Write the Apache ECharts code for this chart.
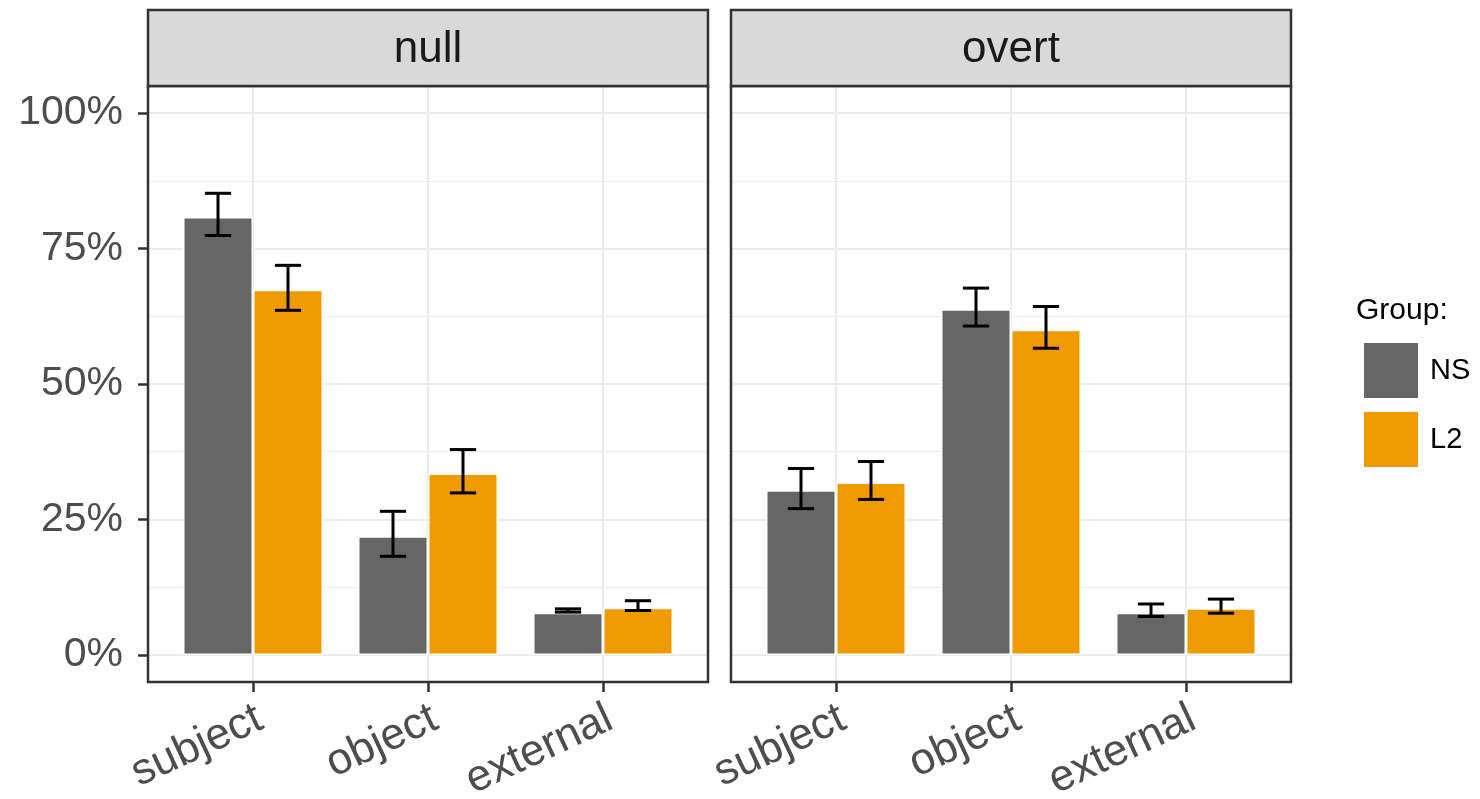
<!DOCTYPE html>
<html>
<head>
<meta charset="utf-8">
<script src="https://cdn.jsdelivr.net/npm/echarts@6/dist/echarts.min.js"></script>
<style>
html,body{margin:0;padding:0;background:#fff;}
#chart{width:1480px;height:799px;}
</style>
</head>
<body>
<div id="chart"></div>
<script>
// ---- data ----
const panels = ['null', 'overt'];
const categories = ['subject', 'object', 'external'];
const groups = ['NS', 'L2'];
const yTicks = [0, 0.25, 0.5, 0.75, 1];
const yMinorTicks = [0.125, 0.375, 0.625, 0.875];

// mean proportions, per panel
const nullNS = [0.808, 0.219, 0.078];
const nullL2 = [0.674, 0.335, 0.087];
const overtNS = [0.304, 0.638, 0.078];
const overtL2 = [0.318, 0.600, 0.086];

// error bar bounds (low, high)
const nullNSLow  = [0.774, 0.182, 0.079];
const nullNSHigh = [0.852, 0.265, 0.085];
const nullL2Low  = [0.636, 0.299, 0.082];
const nullL2High = [0.719, 0.379, 0.100];
const overtNSLow  = [0.270, 0.607, 0.071];
const overtNSHigh = [0.344, 0.677, 0.094];
const overtL2Low  = [0.287, 0.566, 0.077];
const overtL2High = [0.357, 0.643, 0.103];

// ---- style / layout ----
const FONT = 'Liberation Sans, Arial, Helvetica, sans-serif';
const colors = {NS: '#666666', L2: '#EE9A00'};
const panelLeft = [148, 731];
const panelWidth = 560;
const panelTop = 86;
const panelHeight = 596;
const stripTop = 10;
const stripHeight = 76;
const dodge = 0.2;
const capHalf = 0.075;

const values = [
  {NS: nullNS, L2: nullL2, NSLow: nullNSLow, NSHigh: nullNSHigh, L2Low: nullL2Low, L2High: nullL2High},
  {NS: overtNS, L2: overtL2, NSLow: overtNSLow, NSHigh: overtNSHigh, L2Low: overtL2Low, L2High: overtL2High}
];

const grids = [], xAxes = [], yAxes = [], series = [], graphics = [];

panels.forEach((p, pi) => {
  grids.push({left: panelLeft[pi], top: panelTop, width: panelWidth, height: panelHeight,
    containLabel: false, outerBoundsMode: 'none',
    show: true, backgroundColor: '#fff', borderWidth: 0});
  xAxes.push({
    type: 'value', gridIndex: pi, min: 0.4, max: 3.6, position: 'bottom',
    axisLine: {show: false, onZero: false},
    axisTick: {show: true, customValues: [1, 2, 3], length: 10, lineStyle: {color: '#333', width: 2.5}},
    axisLabel: {show: true, customValues: [1, 2, 3], rotate: 25, margin: 38,
      align: 'right', verticalAlign: 'middle', padding: [0, -8, 0, 0],
      formatter: v => categories[Math.round(v) - 1],
      fontFamily: FONT, fontSize: 44, color: '#4D4D4D'},
    splitLine: {show: true, lineStyle: {color: '#EBEBEB', width: 2}}
  });
  yAxes.push({
    type: 'value', gridIndex: pi, min: -0.05, max: 1.05,
    axisLine: {show: false, onZero: false},
    axisTick: {show: pi === 0, customValues: yTicks, length: 10, lineStyle: {color: '#333', width: 2.5}},
    axisLabel: {show: pi === 0, customValues: yTicks, margin: 25,
      formatter: v => Math.round(v * 100) + '%',
      fontFamily: FONT, fontSize: 41, color: '#4D4D4D'},
    splitLine: {show: true, lineStyle: {color: '#EBEBEB', width: 2.2}}
  });
  yAxes.push({
    type: 'value', gridIndex: pi, min: -0.05, max: 1.05, position: 'left',
    axisLine: {show: false, onZero: false},
    axisTick: {show: false, customValues: yMinorTicks},
    axisLabel: {show: false, customValues: yMinorTicks},
    splitLine: {show: true, lineStyle: {color: '#EBEBEB', width: 1.1}}
  });

  const v = values[pi];
  groups.forEach((g, gi) => {
    series.push({
      name: g, type: 'bar', xAxisIndex: pi, yAxisIndex: pi * 2,
      barWidth: '40%', barGap: '0%',
      itemStyle: {color: colors[g], borderColor: '#fff', borderWidth: 1.5},
      data: categories.map((c, ci) => [ci + 1, v[g][ci]]),
      z: 3
    });
  });
  groups.forEach((g, gi) => {
    const off = gi === 0 ? -dodge : dodge;
    series.push({
      name: 'err' + g, type: 'custom', xAxisIndex: pi, yAxisIndex: pi * 2,
      data: categories.map((c, ci) => [ci + 1, v[g + 'Low'][ci], v[g + 'High'][ci]]),
      renderItem: (params, api) => {
        const x = api.value(0) + off;
        const lo = api.value(1), hi = api.value(2);
        const a = api.coord([x, hi]), b = api.coord([x, lo]);
        const l1 = api.coord([x - capHalf, hi]), r1 = api.coord([x + capHalf, hi]);
        const l2 = api.coord([x - capHalf, lo]), r2 = api.coord([x + capHalf, lo]);
        const st = {stroke: '#000', lineWidth: 3, fill: null};
        return {type: 'group', children: [
          {type: 'line', shape: {x1: a[0], y1: a[1], x2: b[0], y2: b[1]}, style: st},
          {type: 'line', shape: {x1: l1[0], y1: l1[1], x2: r1[0], y2: r1[1]}, style: st},
          {type: 'line', shape: {x1: l2[0], y1: l2[1], x2: r2[0], y2: r2[1]}, style: st}
        ]};
      },
      z: 5, silent: true
    });
  });

  // panel border and strip
  graphics.push({type: 'rect', z: 100, silent: true,
    shape: {x: panelLeft[pi], y: panelTop, width: panelWidth, height: panelHeight},
    style: {fill: null, stroke: '#333', lineWidth: 2.5}});
  graphics.push({type: 'rect', z: 100, silent: true,
    shape: {x: panelLeft[pi], y: stripTop, width: panelWidth, height: stripHeight},
    style: {fill: '#D9D9D9', stroke: '#333', lineWidth: 2.5}});
  graphics.push({type: 'text', z: 101, silent: true,
    x: panelLeft[pi] + panelWidth / 2, y: stripTop + stripHeight / 2 + 2,
    style: {text: p, fill: '#1A1A1A', font: '44px ' + FONT, align: 'center', verticalAlign: 'middle'}});
});

const chart = echarts.init(document.getElementById('chart'), null, {renderer: 'canvas'});
chart.setOption({
  animation: false,
  backgroundColor: '#fff',
  title: {text: 'Group:', left: 1356, top: 296, padding: 0,
    textStyle: {fontFamily: FONT, fontSize: 30, fontWeight: 'normal', color: '#000'}},
  legend: {data: groups, orient: 'vertical', left: 1362, top: 341, padding: 0,
    itemWidth: 56, itemHeight: 57, itemGap: 10, icon: 'rect',
    textStyle: {fontFamily: FONT, fontSize: 29, color: '#000', padding: [0, 0, 0, 6]}},
  grid: grids, xAxis: xAxes, yAxis: yAxes, series: series, graphic: graphics
});
</script>
</body>
</html>
